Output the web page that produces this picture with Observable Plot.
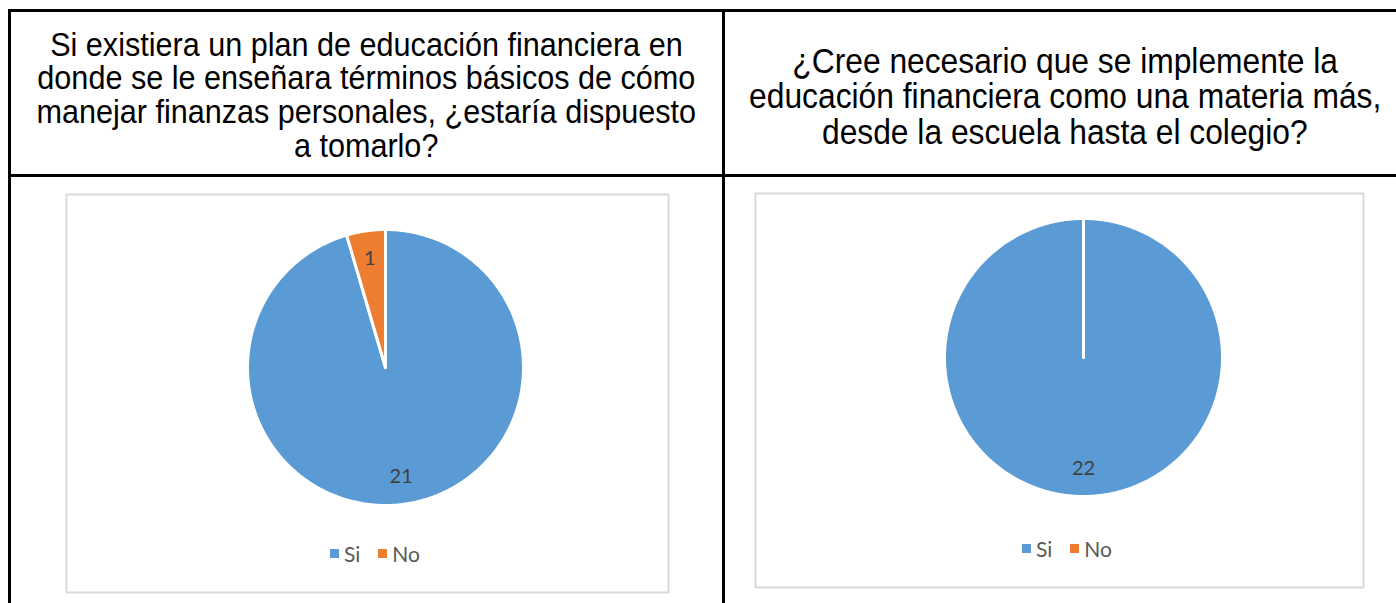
<!DOCTYPE html>
<html>
<head>
<meta charset="utf-8">
<script src="https://cdn.jsdelivr.net/npm/d3@7"></script>
<script src="https://cdn.jsdelivr.net/npm/@observablehq/plot@0.6"></script>
<style>
  html, body { margin: 0; padding: 0; background: #fff; width: 1396px; height: 603px; overflow: hidden; }
  #page { position: relative; width: 1396px; height: 603px; }
  .line { position: absolute; background: #000; }
  .head { position: absolute; display: flex; flex-direction: column; align-items: center; justify-content: center; text-align: center;
          font-family: "Liberation Sans", Arial, sans-serif; color: #000; }
  .head > div { white-space: nowrap; overflow: visible; }
  .chart { position: absolute; }
  .legend { position: absolute; display: flex; align-items: center; font-family: Lato, "Open Sans", sans-serif;
            font-size: 21px; color: #595959; transform: translateX(-50%); white-space: nowrap; }
  .legend .sw { display: inline-block; width: 9px; height: 9px; margin-right: 5px; }
  .legend .item { display: inline-flex; align-items: center; margin-right: 18px; }
  .legend .item:last-child { margin-right: 0; }
</style>
</head>
<body>
<div id="page"></div>
<script>
// ---- data ----
const categories = ["Si", "No"];
const colors = ["#5B9BD5", "#ED7D31"];
const chart1Values = [21, 1];
const chart2Values = [22, 0];
const title1 = ["Si existiera un plan de educación financiera en", "donde se le enseñara términos básicos de cómo", "manejar finanzas personales, ¿estaría dispuesto", "a tomarlo?"];
const title2 = ["¿Cree necesario que se implemente la", "educación financiera como una materia más,", "desde la escuela hasta el colegio?"];

const page = document.getElementById("page");

function addLine(x, y, w, h) {
  const d = document.createElement("div");
  d.className = "line";
  Object.assign(d.style, {left: x + "px", top: y + "px", width: w + "px", height: h + "px"});
  page.appendChild(d);
}
function addHead(lines, x, y, w, h, fs, lh, sx) {
  const d = document.createElement("div");
  d.className = "head";
  Object.assign(d.style, {left: x + "px", top: y + "px", width: w + "px", height: h + "px", fontSize: fs + "px"});
  lines.forEach(s => {
    const ln = document.createElement("div");
    ln.textContent = s;
    Object.assign(ln.style, {height: lh + "px", lineHeight: lh + "px", transform: `scaleX(${sx})`});
    d.appendChild(ln);
  });
  page.appendChild(d);
}

// table grid
addLine(8, 9, 1400, 3);     // top
addLine(8, 174, 1400, 3);   // header bottom
addLine(8, 9, 3, 600);      // left
addLine(722, 9, 3, 600);    // middle

addHead(title1, 11, 14, 711, 162, 33.5, 33.6, 0.913);
addHead(title2, 725, 15, 680, 162, 35.3, 35.5, 0.9);

function pieChart(values, {left, top, width, height, cx, cy, r, legendX, legendY}) {
  const pie = d3.pie().sort(null).value(d => d.value)(categories.map((c, i) => ({cat: c, value: values[i]})));
  const pts = [];
  pie.forEach((s, i) => {
    if (s.endAngle - s.startAngle <= 0) return;
    const n = Math.max(2, Math.ceil((s.endAngle - s.startAngle) / (Math.PI / 180)));
    pts.push({slice: i, cat: s.data.cat, x: 0, y: 0});
    for (let k = 0; k <= n; k++) {
      const a = s.startAngle + (s.endAngle - s.startAngle) * k / n;
      pts.push({slice: i, cat: s.data.cat, x: Math.sin(a), y: Math.cos(a)});
    }
    pts.push({slice: i, cat: s.data.cat, x: 0, y: 0});
  });
  const labels = pie.filter(s => s.value > 0).map(s => {
    const m = (s.startAngle + s.endAngle) / 2;
    return {x: 0.8 * Math.sin(m), y: 0.8 * Math.cos(m), text: String(s.value)};
  });
  const plot = Plot.plot({
    width, height,
    margin: 0,
    x: {domain: [-1, 1], range: [cx - r, cx + r], axis: null},
    y: {domain: [-1, 1], range: [cy + r, cy - r], axis: null},
    color: {domain: categories, range: colors},
    style: {background: "#fff", overflow: "visible"},
    marks: [
      Plot.frame({stroke: "#D9D9D9", strokeWidth: 2, inset: 1}),
      Plot.line(pts, {x: "x", y: "y", z: "slice", fill: "cat", stroke: "#fff", strokeWidth: 3, strokeLinejoin: "round"}),
      Plot.text(labels, {x: "x", y: "y", text: "text", fill: "#404040", fontSize: 20, fontFamily: "Lato, 'Open Sans', sans-serif"})
    ]
  });
  const wrap = document.createElement("div");
  wrap.className = "chart";
  Object.assign(wrap.style, {left: left + "px", top: top + "px"});
  wrap.appendChild(plot);
  page.appendChild(wrap);

  const lg = document.createElement("div");
  lg.className = "legend";
  Object.assign(lg.style, {left: legendX + "px", top: (legendY - 13) + "px", height: "26px"});
  categories.forEach((c, i) => {
    const it = document.createElement("span");
    it.className = "item";
    const sw = document.createElement("span");
    sw.className = "sw";
    sw.style.background = colors[i];
    it.appendChild(sw);
    it.appendChild(document.createTextNode(c));
    lg.appendChild(it);
  });
  page.appendChild(lg);
}

pieChart(chart1Values, {left: 65, top: 193, width: 604, height: 400, cx: 320, cy: 174, r: 138, legendX: 375, legendY: 553});
pieChart(chart2Values, {left: 754, top: 192, width: 610, height: 396, cx: 329, cy: 165, r: 139, legendX: 1067, legendY: 548});
</script>
</body>
</html>
